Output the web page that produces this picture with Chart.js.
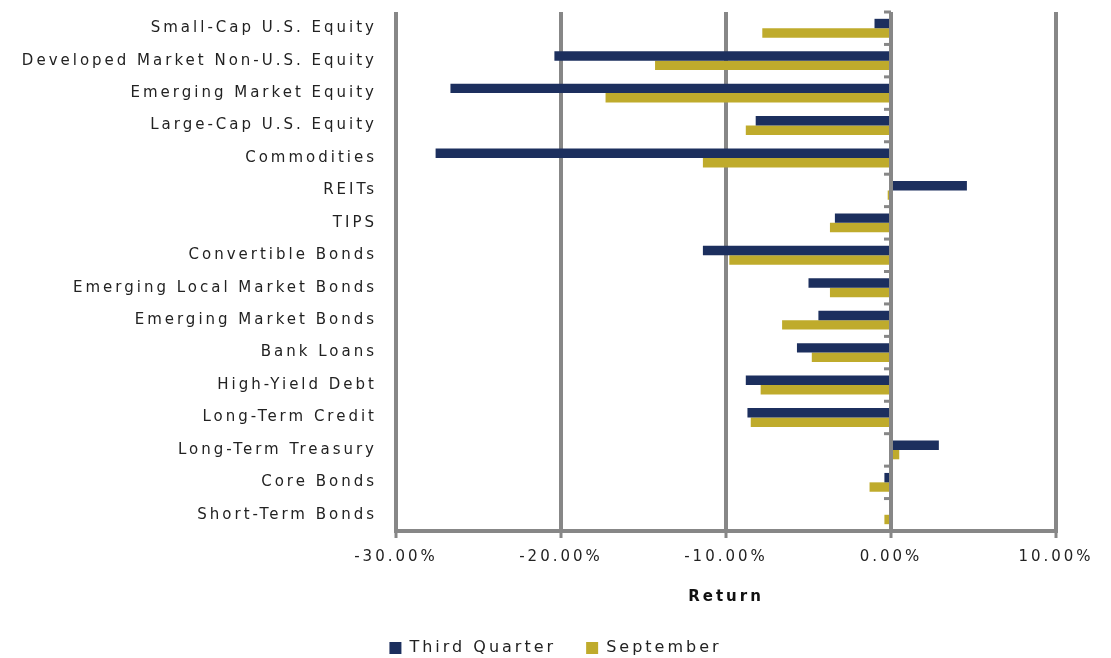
<!DOCTYPE html>
<html>
<head>
<meta charset="utf-8">
<script src="https://cdn.jsdelivr.net/npm/chart.js@4/dist/chart.umd.min.js"></script>
<style>
  html, body { margin: 0; padding: 0; background: #fff; }
  #wrap { width: 1111px; height: 658px; }
</style>
</head>
<body>
<div id="wrap"><canvas id="returnsChart"></canvas></div>
<script>
// asset classes, top to bottom
const categories = [
  "Small-Cap U.S. Equity",
  "Developed Market Non-U.S. Equity",
  "Emerging Market Equity",
  "Large-Cap U.S. Equity",
  "Commodities",
  "REITs",
  "TIPS",
  "Convertible Bonds",
  "Emerging Local Market Bonds",
  "Emerging Market Bonds",
  "Bank Loans",
  "High-Yield Debt",
  "Long-Term Credit",
  "Long-Term Treasury",
  "Core Bonds",
  "Short-Term Bonds"
];

// returns in %
const thirdQuarter = [-1.0, -20.4, -26.7, -8.2, -27.6, 4.6, -3.4, -11.4, -5.0, -4.4, -5.7, -8.8, -8.7, 2.9, -0.4, 0.0];
const september   = [-7.8, -14.3, -17.3, -8.8, -11.4, -0.2, -3.7, -9.8, -3.7, -6.6, -4.8, -7.9, -8.5, 0.5, -1.3, -0.4];

const xTicks = [-30, -20, -10, 0, 10];

const NAVY = "#1c2f5e";
const GOLD = "#bfab2c";
const GRAY = "#878787";
const FONT = "'DejaVu Sans', sans-serif";

// wider letter spacing to mimic the original typeface
const spacingPlugin = {
  id: "spacing",
  beforeLayout(chart) { chart.ctx.letterSpacing = "3px"; },
  beforeDraw(chart) { chart.ctx.letterSpacing = "3px"; }
};

// short category ticks on the left of the zero line
const zeroTicksPlugin = {
  id: "zeroTicks",
  afterDraw(chart) {
    const x = chart.scales.x;
    const y = chart.scales.y;
    const ctx = chart.ctx;
    const x0 = x.getPixelForValue(0);
    const step = (y.bottom - y.top) / categories.length;
    ctx.save();
    ctx.strokeStyle = GRAY;
    ctx.lineWidth = 3;
    for (let i = 0; i <= categories.length; i++) {
      const py = y.top + i * step;
      ctx.beginPath();
      ctx.moveTo(x0 - 7, py);
      ctx.lineTo(x0, py);
      ctx.stroke();
    }
    ctx.restore();
  }
};

const ctx = document.getElementById("returnsChart").getContext("2d");

new Chart(ctx, {
  type: "bar",
  data: {
    labels: categories,
    datasets: [
      {
        label: "Third Quarter",
        data: thirdQuarter,
        backgroundColor: NAVY,
        categoryPercentage: 0.58,
        barPercentage: 1.0
      },
      {
        label: "September",
        data: september,
        backgroundColor: GOLD,
        categoryPercentage: 0.58,
        barPercentage: 1.0
      }
    ]
  },
  options: {
    indexAxis: "y",
    responsive: true,
    maintainAspectRatio: false,
    animation: false,
    layout: {
      padding: { top: 12, right: 0, bottom: -8, left: 0 }
    },
    scales: {
      x: {
        min: -30,
        max: 10,
        afterBuildTicks(scale) {
          scale.ticks = xTicks.map((v) => ({ value: v }));
        },
        afterFit(scale) {
          scale.paddingRight = 55;
        },
        grid: {
          color: GRAY,
          lineWidth: 4,
          drawTicks: true,
          tickLength: 7,
          tickColor: GRAY,
          tickWidth: 3
        },
        border: { display: true, color: GRAY, width: 4 },
        ticks: {
          color: "#222",
          font: { family: FONT, size: 15 },
          padding: 10,
          callback: (v) => v.toFixed(2) + "%"
        },
        title: {
          display: true,
          text: "Return",
          color: "#111",
          font: { family: FONT, size: 15, weight: "bold" },
          padding: { top: 12, bottom: 4 }
        }
      },
      y: {
        afterFit(scale) {
          scale.width = 396;
          scale.paddingTop = 0;
          scale.paddingBottom = 0;
        },
        grid: { display: false },
        border: { display: false },
        ticks: {
          color: "#222",
          font: { family: FONT, size: 15 },
          padding: 11,
          autoSkip: false
        }
      }
    },
    plugins: {
      legend: {
        position: "bottom",
        labels: {
          color: "#222",
          font: { family: FONT, size: 16 },
          boxWidth: 12,
          boxHeight: 12,
          padding: 30
        }
      },
      tooltip: { enabled: false }
    }
  },
  plugins: [spacingPlugin, zeroTicksPlugin]
});
</script>
</body>
</html>
